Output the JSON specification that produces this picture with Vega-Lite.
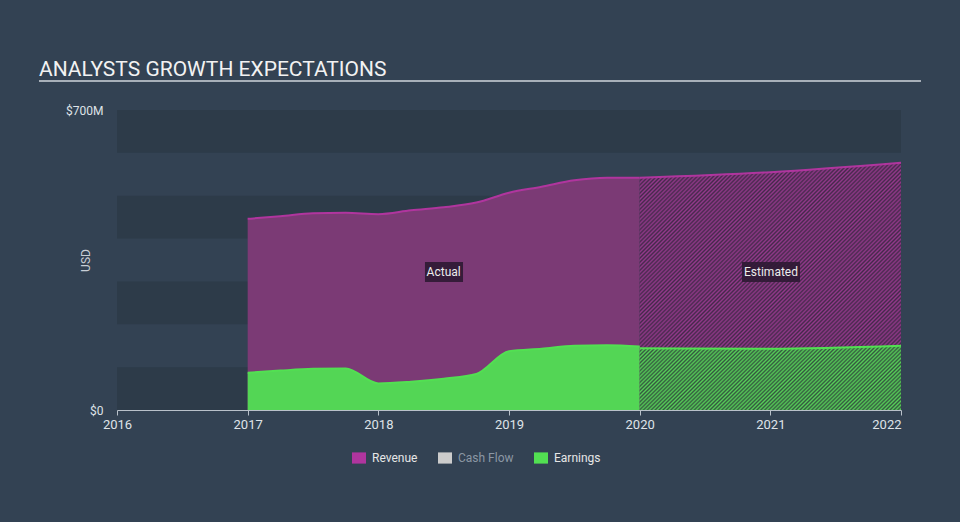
{
"$schema": "https://vega.github.io/schema/vega-lite/v6.json",
"width": 784, "height": 300,
"autosize": {"type": "none"},
"padding": {"left": 117, "top": 110, "right": 59, "bottom": 112},
"background": "#334253",
"config": {
 "view": {"stroke": null},
 "font": "Roboto",
 "axisX": {"domainColor": "#b9c1ca", "tickColor": "#b9c1ca", "tickSize": 5, "labelColor": "#dfe3e8", "labelFontSize": 13, "labelPadding": 3, "grid": false, "labelFont": "Roboto"},
 "axisY": {"domain": false, "ticks": false, "grid": false, "labelColor": "#dfe3e8", "labelFontSize": 12, "labelPadding": 14, "labelFont": "Roboto", "titleColor": "#c8ced6", "titleFont": "Roboto", "titleFontSize": 12, "titleFontWeight": "normal"}
},
"title": {"text": "ANALYSTS GROWTH EXPECTATIONS", "anchor": "start", "frame": "group", "dx": -78, "dy": 45, "offset": 28, "font": "Roboto", "fontSize": 21, "fontWeight": "normal", "color": "#f2f2f2", "baseline": "alphabetic"},
"datasets": {
 "fin": [
  {"year": 2017, "series": "Revenue", "phase": "Actual", "value": 446},
  {"year": 2017.25, "series": "Revenue", "phase": "Actual", "value": 452},
  {"year": 2017.5, "series": "Revenue", "phase": "Actual", "value": 459},
  {"year": 2017.75, "series": "Revenue", "phase": "Actual", "value": 460},
  {"year": 2018, "series": "Revenue", "phase": "Actual", "value": 457},
  {"year": 2018.25, "series": "Revenue", "phase": "Actual", "value": 466},
  {"year": 2018.5, "series": "Revenue", "phase": "Actual", "value": 473},
  {"year": 2018.75, "series": "Revenue", "phase": "Actual", "value": 484},
  {"year": 2019, "series": "Revenue", "phase": "Actual", "value": 507},
  {"year": 2019.25, "series": "Revenue", "phase": "Actual", "value": 521},
  {"year": 2019.5, "series": "Revenue", "phase": "Actual", "value": 536},
  {"year": 2019.75, "series": "Revenue", "phase": "Actual", "value": 542},
  {"year": 2020, "series": "Revenue", "phase": "Actual", "value": 542},
  {"year": 2020, "series": "Revenue", "phase": "Estimated", "value": 542},
  {"year": 2021, "series": "Revenue", "phase": "Estimated", "value": 555},
  {"year": 2022, "series": "Revenue", "phase": "Estimated", "value": 577},
  {"year": 2017, "series": "Earnings", "phase": "Actual", "value": 87},
  {"year": 2017.25, "series": "Earnings", "phase": "Actual", "value": 92},
  {"year": 2017.5, "series": "Earnings", "phase": "Actual", "value": 96},
  {"year": 2017.75, "series": "Earnings", "phase": "Actual", "value": 97},
  {"year": 2018, "series": "Earnings", "phase": "Actual", "value": 62},
  {"year": 2018.25, "series": "Earnings", "phase": "Actual", "value": 66},
  {"year": 2018.5, "series": "Earnings", "phase": "Actual", "value": 73},
  {"year": 2018.75, "series": "Earnings", "phase": "Actual", "value": 84},
  {"year": 2019, "series": "Earnings", "phase": "Actual", "value": 137},
  {"year": 2019.25, "series": "Earnings", "phase": "Actual", "value": 143},
  {"year": 2019.5, "series": "Earnings", "phase": "Actual", "value": 150},
  {"year": 2019.75, "series": "Earnings", "phase": "Actual", "value": 151},
  {"year": 2020, "series": "Earnings", "phase": "Actual", "value": 148},
  {"year": 2020, "series": "Earnings", "phase": "Estimated", "value": 144},
  {"year": 2021, "series": "Earnings", "phase": "Estimated", "value": 143},
  {"year": 2022, "series": "Earnings", "phase": "Estimated", "value": 150}
 ],
 "bands": [{"lo": 0, "hi": 100}, {"lo": 200, "hi": 300}, {"lo": 400, "hi": 500}, {"lo": 600, "hi": 700}]
},
"data": {"name": "fin"},
"layer": [
 {
  "data": {"name": "bands"},
  "mark": {"type": "rect", "fill": "#2d3b49"},
  "encoding": {
   "x": {"datum": 2016, "type": "quantitative", "scale": {"domain": [2016, 2022], "nice": false, "zero": false}},
   "x2": {"datum": 2022},
   "y": {"field": "lo", "type": "quantitative", "scale": {"domain": [0, 700], "nice": false}},
   "y2": {"field": "hi"}
  }
 },
 {
  "transform": [{"filter": "datum.series === 'Revenue' && datum.phase === 'Actual'"}],
  "mark": {"type": "area", "interpolate": "monotone", "fill": "#7b3a75", "opacity": 1},
  "encoding": {
   "x": {"field": "year", "type": "quantitative", "scale": {"domain": [2016, 2022], "nice": false, "zero": false},
    "axis": {"values": [2016, 2017, 2018, 2019, 2020, 2021, 2022], "format": "d", "title": null,
     "labelAlign": {"condition": {"test": "datum.value === 2022", "value": "right"}, "value": "center"}}},
   "y": {"field": "value", "type": "quantitative", "scale": {"domain": [0, 700], "nice": false},
    "axis": {"values": [0, 700], "labelExpr": "datum.value === 0 ? '$0' : '$' + datum.value + 'M'", "title": "USD", "labelFlush": false,
     "titleX": -32, "titleY": 150, "titleAngle": 270, "titleAlign": "center", "titleBaseline": "middle"}}
  }
 },
 {
  "transform": [{"filter": "datum.series === 'Revenue' && datum.phase === 'Estimated'"}],
  "mark": {"type": "area", "interpolate": "monotone", "opacity": 1,
   "fill": {"gradient": "linear", "x1": 0, "y1": 0, "x2": 1.0268, "y2": 0.9717, "stops": [
{"offset":0,"color":"#93398b"},{"offset":0.004,"color":"#45294b"},{"offset":0.008,"color":"#93398b"},{"offset":0.012,"color":"#45294b"},{"offset":0.016,"color":"#93398b"},{"offset":0.02,"color":"#45294b"},{"offset":0.024,"color":"#93398b"},{"offset":0.028,"color":"#45294b"},{"offset":0.032,"color":"#93398b"},{"offset":0.036,"color":"#45294b"},
{"offset":0.04,"color":"#93398b"},{"offset":0.044,"color":"#45294b"},{"offset":0.048,"color":"#93398b"},{"offset":0.052,"color":"#45294b"},{"offset":0.056,"color":"#93398b"},{"offset":0.06,"color":"#45294b"},{"offset":0.064,"color":"#93398b"},{"offset":0.068,"color":"#45294b"},{"offset":0.072,"color":"#93398b"},{"offset":0.076,"color":"#45294b"},
{"offset":0.08,"color":"#93398b"},{"offset":0.084,"color":"#45294b"},{"offset":0.088,"color":"#93398b"},{"offset":0.092,"color":"#45294b"},{"offset":0.096,"color":"#93398b"},{"offset":0.1,"color":"#45294b"},{"offset":0.104,"color":"#93398b"},{"offset":0.108,"color":"#45294b"},{"offset":0.112,"color":"#93398b"},{"offset":0.116,"color":"#45294b"},
{"offset":0.12,"color":"#93398b"},{"offset":0.124,"color":"#45294b"},{"offset":0.128,"color":"#93398b"},{"offset":0.132,"color":"#45294b"},{"offset":0.136,"color":"#93398b"},{"offset":0.14,"color":"#45294b"},{"offset":0.144,"color":"#93398b"},{"offset":0.148,"color":"#45294b"},{"offset":0.152,"color":"#93398b"},{"offset":0.156,"color":"#45294b"},
{"offset":0.16,"color":"#93398b"},{"offset":0.164,"color":"#45294b"},{"offset":0.168,"color":"#93398b"},{"offset":0.172,"color":"#45294b"},{"offset":0.176,"color":"#93398b"},{"offset":0.18,"color":"#45294b"},{"offset":0.184,"color":"#93398b"},{"offset":0.188,"color":"#45294b"},{"offset":0.192,"color":"#93398b"},{"offset":0.196,"color":"#45294b"},
{"offset":0.2,"color":"#93398b"},{"offset":0.204,"color":"#45294b"},{"offset":0.208,"color":"#93398b"},{"offset":0.212,"color":"#45294b"},{"offset":0.216,"color":"#93398b"},{"offset":0.22,"color":"#45294b"},{"offset":0.224,"color":"#93398b"},{"offset":0.228,"color":"#45294b"},{"offset":0.232,"color":"#93398b"},{"offset":0.236,"color":"#45294b"},
{"offset":0.24,"color":"#93398b"},{"offset":0.244,"color":"#45294b"},{"offset":0.248,"color":"#93398b"},{"offset":0.252,"color":"#45294b"},{"offset":0.256,"color":"#93398b"},{"offset":0.26,"color":"#45294b"},{"offset":0.264,"color":"#93398b"},{"offset":0.268,"color":"#45294b"},{"offset":0.272,"color":"#93398b"},{"offset":0.276,"color":"#45294b"},
{"offset":0.28,"color":"#93398b"},{"offset":0.284,"color":"#45294b"},{"offset":0.288,"color":"#93398b"},{"offset":0.292,"color":"#45294b"},{"offset":0.296,"color":"#93398b"},{"offset":0.3,"color":"#45294b"},{"offset":0.304,"color":"#93398b"},{"offset":0.308,"color":"#45294b"},{"offset":0.312,"color":"#93398b"},{"offset":0.316,"color":"#45294b"},
{"offset":0.32,"color":"#93398b"},{"offset":0.324,"color":"#45294b"},{"offset":0.328,"color":"#93398b"},{"offset":0.332,"color":"#45294b"},{"offset":0.336,"color":"#93398b"},{"offset":0.34,"color":"#45294b"},{"offset":0.344,"color":"#93398b"},{"offset":0.348,"color":"#45294b"},{"offset":0.352,"color":"#93398b"},{"offset":0.356,"color":"#45294b"},
{"offset":0.36,"color":"#93398b"},{"offset":0.364,"color":"#45294b"},{"offset":0.368,"color":"#93398b"},{"offset":0.372,"color":"#45294b"},{"offset":0.376,"color":"#93398b"},{"offset":0.38,"color":"#45294b"},{"offset":0.384,"color":"#93398b"},{"offset":0.388,"color":"#45294b"},{"offset":0.392,"color":"#93398b"},{"offset":0.396,"color":"#45294b"},
{"offset":0.4,"color":"#93398b"},{"offset":0.404,"color":"#45294b"},{"offset":0.408,"color":"#93398b"},{"offset":0.412,"color":"#45294b"},{"offset":0.416,"color":"#93398b"},{"offset":0.42,"color":"#45294b"},{"offset":0.424,"color":"#93398b"},{"offset":0.428,"color":"#45294b"},{"offset":0.432,"color":"#93398b"},{"offset":0.436,"color":"#45294b"},
{"offset":0.44,"color":"#93398b"},{"offset":0.444,"color":"#45294b"},{"offset":0.448,"color":"#93398b"},{"offset":0.452,"color":"#45294b"},{"offset":0.456,"color":"#93398b"},{"offset":0.46,"color":"#45294b"},{"offset":0.464,"color":"#93398b"},{"offset":0.468,"color":"#45294b"},{"offset":0.472,"color":"#93398b"},{"offset":0.476,"color":"#45294b"},
{"offset":0.48,"color":"#93398b"},{"offset":0.484,"color":"#45294b"},{"offset":0.488,"color":"#93398b"},{"offset":0.492,"color":"#45294b"},{"offset":0.496,"color":"#93398b"},{"offset":0.5,"color":"#45294b"},{"offset":0.504,"color":"#93398b"},{"offset":0.508,"color":"#45294b"},{"offset":0.512,"color":"#93398b"},{"offset":0.516,"color":"#45294b"},
{"offset":0.52,"color":"#93398b"},{"offset":0.524,"color":"#45294b"},{"offset":0.528,"color":"#93398b"},{"offset":0.532,"color":"#45294b"},{"offset":0.536,"color":"#93398b"},{"offset":0.54,"color":"#45294b"},{"offset":0.544,"color":"#93398b"},{"offset":0.548,"color":"#45294b"},{"offset":0.552,"color":"#93398b"},{"offset":0.556,"color":"#45294b"},
{"offset":0.56,"color":"#93398b"},{"offset":0.564,"color":"#45294b"},{"offset":0.568,"color":"#93398b"},{"offset":0.572,"color":"#45294b"},{"offset":0.576,"color":"#93398b"},{"offset":0.58,"color":"#45294b"},{"offset":0.584,"color":"#93398b"},{"offset":0.588,"color":"#45294b"},{"offset":0.592,"color":"#93398b"},{"offset":0.596,"color":"#45294b"},
{"offset":0.6,"color":"#93398b"},{"offset":0.604,"color":"#45294b"},{"offset":0.608,"color":"#93398b"},{"offset":0.612,"color":"#45294b"},{"offset":0.616,"color":"#93398b"},{"offset":0.62,"color":"#45294b"},{"offset":0.624,"color":"#93398b"},{"offset":0.628,"color":"#45294b"},{"offset":0.632,"color":"#93398b"},{"offset":0.636,"color":"#45294b"},
{"offset":0.64,"color":"#93398b"},{"offset":0.644,"color":"#45294b"},{"offset":0.648,"color":"#93398b"},{"offset":0.652,"color":"#45294b"},{"offset":0.656,"color":"#93398b"},{"offset":0.66,"color":"#45294b"},{"offset":0.664,"color":"#93398b"},{"offset":0.668,"color":"#45294b"},{"offset":0.672,"color":"#93398b"},{"offset":0.676,"color":"#45294b"},
{"offset":0.68,"color":"#93398b"},{"offset":0.684,"color":"#45294b"},{"offset":0.688,"color":"#93398b"},{"offset":0.692,"color":"#45294b"},{"offset":0.696,"color":"#93398b"},{"offset":0.7,"color":"#45294b"},{"offset":0.704,"color":"#93398b"},{"offset":0.708,"color":"#45294b"},{"offset":0.712,"color":"#93398b"},{"offset":0.716,"color":"#45294b"},
{"offset":0.72,"color":"#93398b"},{"offset":0.724,"color":"#45294b"},{"offset":0.728,"color":"#93398b"},{"offset":0.732,"color":"#45294b"},{"offset":0.736,"color":"#93398b"},{"offset":0.74,"color":"#45294b"},{"offset":0.744,"color":"#93398b"},{"offset":0.748,"color":"#45294b"},{"offset":0.752,"color":"#93398b"},{"offset":0.756,"color":"#45294b"},
{"offset":0.76,"color":"#93398b"},{"offset":0.764,"color":"#45294b"},{"offset":0.768,"color":"#93398b"},{"offset":0.772,"color":"#45294b"},{"offset":0.776,"color":"#93398b"},{"offset":0.78,"color":"#45294b"},{"offset":0.784,"color":"#93398b"},{"offset":0.788,"color":"#45294b"},{"offset":0.792,"color":"#93398b"},{"offset":0.796,"color":"#45294b"},
{"offset":0.8,"color":"#93398b"},{"offset":0.804,"color":"#45294b"},{"offset":0.808,"color":"#93398b"},{"offset":0.812,"color":"#45294b"},{"offset":0.816,"color":"#93398b"},{"offset":0.82,"color":"#45294b"},{"offset":0.824,"color":"#93398b"},{"offset":0.828,"color":"#45294b"},{"offset":0.832,"color":"#93398b"},{"offset":0.836,"color":"#45294b"},
{"offset":0.84,"color":"#93398b"},{"offset":0.844,"color":"#45294b"},{"offset":0.848,"color":"#93398b"},{"offset":0.852,"color":"#45294b"},{"offset":0.856,"color":"#93398b"},{"offset":0.86,"color":"#45294b"},{"offset":0.864,"color":"#93398b"},{"offset":0.868,"color":"#45294b"},{"offset":0.872,"color":"#93398b"},{"offset":0.876,"color":"#45294b"},
{"offset":0.88,"color":"#93398b"},{"offset":0.884,"color":"#45294b"},{"offset":0.888,"color":"#93398b"},{"offset":0.892,"color":"#45294b"},{"offset":0.896,"color":"#93398b"},{"offset":0.9,"color":"#45294b"},{"offset":0.904,"color":"#93398b"},{"offset":0.908,"color":"#45294b"},{"offset":0.912,"color":"#93398b"},{"offset":0.916,"color":"#45294b"},
{"offset":0.92,"color":"#93398b"},{"offset":0.924,"color":"#45294b"},{"offset":0.928,"color":"#93398b"},{"offset":0.932,"color":"#45294b"},{"offset":0.936,"color":"#93398b"},{"offset":0.94,"color":"#45294b"},{"offset":0.944,"color":"#93398b"},{"offset":0.948,"color":"#45294b"},{"offset":0.952,"color":"#93398b"},{"offset":0.956,"color":"#45294b"},
{"offset":0.96,"color":"#93398b"},{"offset":0.964,"color":"#45294b"},{"offset":0.968,"color":"#93398b"},{"offset":0.972,"color":"#45294b"},{"offset":0.976,"color":"#93398b"},{"offset":0.98,"color":"#45294b"},{"offset":0.984,"color":"#93398b"},{"offset":0.988,"color":"#45294b"},{"offset":0.992,"color":"#93398b"},{"offset":0.996,"color":"#45294b"},
{"offset":1,"color":"#93398b"}
   ]}},
  "encoding": {
   "x": {"field": "year", "type": "quantitative", "scale": {"domain": [2016, 2022], "nice": false, "zero": false}},
   "y": {"field": "value", "type": "quantitative", "scale": {"domain": [0, 700], "nice": false}}
  }
 },
 {
  "transform": [{"filter": "datum.series === 'Earnings' && datum.phase === 'Actual'"}],
  "mark": {"type": "area", "interpolate": "monotone", "fill": "#53d655", "opacity": 1},
  "encoding": {
   "x": {"field": "year", "type": "quantitative", "scale": {"domain": [2016, 2022], "nice": false, "zero": false}},
   "y": {"field": "value", "type": "quantitative", "scale": {"domain": [0, 700], "nice": false}}
  }
 },
 {
  "transform": [{"filter": "datum.series === 'Earnings' && datum.phase === 'Estimated'"}],
  "mark": {"type": "area", "interpolate": "monotone", "opacity": 1,
   "fill": {"gradient": "linear", "x1": 0, "y1": 0, "x2": 1.1755, "y2": 0.291, "stops": [
{"offset":0,"color":"#57cf59"},{"offset":0.006,"color":"#34583f"},{"offset":0.012,"color":"#57cf59"},{"offset":0.018,"color":"#34583f"},{"offset":0.024,"color":"#57cf59"},{"offset":0.03,"color":"#34583f"},{"offset":0.036,"color":"#57cf59"},{"offset":0.042,"color":"#34583f"},{"offset":0.048,"color":"#57cf59"},{"offset":0.054,"color":"#34583f"},
{"offset":0.06,"color":"#57cf59"},{"offset":0.066,"color":"#34583f"},{"offset":0.072,"color":"#57cf59"},{"offset":0.078,"color":"#34583f"},{"offset":0.084,"color":"#57cf59"},{"offset":0.09,"color":"#34583f"},{"offset":0.096,"color":"#57cf59"},{"offset":0.102,"color":"#34583f"},{"offset":0.108,"color":"#57cf59"},{"offset":0.114,"color":"#34583f"},
{"offset":0.12,"color":"#57cf59"},{"offset":0.126,"color":"#34583f"},{"offset":0.132,"color":"#57cf59"},{"offset":0.138,"color":"#34583f"},{"offset":0.144,"color":"#57cf59"},{"offset":0.15,"color":"#34583f"},{"offset":0.156,"color":"#57cf59"},{"offset":0.162,"color":"#34583f"},{"offset":0.168,"color":"#57cf59"},{"offset":0.174,"color":"#34583f"},
{"offset":0.18,"color":"#57cf59"},{"offset":0.186,"color":"#34583f"},{"offset":0.192,"color":"#57cf59"},{"offset":0.198,"color":"#34583f"},{"offset":0.204,"color":"#57cf59"},{"offset":0.21,"color":"#34583f"},{"offset":0.216,"color":"#57cf59"},{"offset":0.222,"color":"#34583f"},{"offset":0.228,"color":"#57cf59"},{"offset":0.234,"color":"#34583f"},
{"offset":0.24,"color":"#57cf59"},{"offset":0.246,"color":"#34583f"},{"offset":0.252,"color":"#57cf59"},{"offset":0.258,"color":"#34583f"},{"offset":0.264,"color":"#57cf59"},{"offset":0.27,"color":"#34583f"},{"offset":0.276,"color":"#57cf59"},{"offset":0.282,"color":"#34583f"},{"offset":0.288,"color":"#57cf59"},{"offset":0.294,"color":"#34583f"},
{"offset":0.3,"color":"#57cf59"},{"offset":0.306,"color":"#34583f"},{"offset":0.312,"color":"#57cf59"},{"offset":0.318,"color":"#34583f"},{"offset":0.324,"color":"#57cf59"},{"offset":0.33,"color":"#34583f"},{"offset":0.336,"color":"#57cf59"},{"offset":0.342,"color":"#34583f"},{"offset":0.348,"color":"#57cf59"},{"offset":0.354,"color":"#34583f"},
{"offset":0.36,"color":"#57cf59"},{"offset":0.366,"color":"#34583f"},{"offset":0.372,"color":"#57cf59"},{"offset":0.378,"color":"#34583f"},{"offset":0.384,"color":"#57cf59"},{"offset":0.39,"color":"#34583f"},{"offset":0.396,"color":"#57cf59"},{"offset":0.402,"color":"#34583f"},{"offset":0.408,"color":"#57cf59"},{"offset":0.414,"color":"#34583f"},
{"offset":0.42,"color":"#57cf59"},{"offset":0.426,"color":"#34583f"},{"offset":0.432,"color":"#57cf59"},{"offset":0.438,"color":"#34583f"},{"offset":0.444,"color":"#57cf59"},{"offset":0.45,"color":"#34583f"},{"offset":0.456,"color":"#57cf59"},{"offset":0.462,"color":"#34583f"},{"offset":0.468,"color":"#57cf59"},{"offset":0.474,"color":"#34583f"},
{"offset":0.48,"color":"#57cf59"},{"offset":0.486,"color":"#34583f"},{"offset":0.492,"color":"#57cf59"},{"offset":0.498,"color":"#34583f"},{"offset":0.504,"color":"#57cf59"},{"offset":0.51,"color":"#34583f"},{"offset":0.516,"color":"#57cf59"},{"offset":0.522,"color":"#34583f"},{"offset":0.528,"color":"#57cf59"},{"offset":0.534,"color":"#34583f"},
{"offset":0.54,"color":"#57cf59"},{"offset":0.546,"color":"#34583f"},{"offset":0.552,"color":"#57cf59"},{"offset":0.558,"color":"#34583f"},{"offset":0.564,"color":"#57cf59"},{"offset":0.57,"color":"#34583f"},{"offset":0.576,"color":"#57cf59"},{"offset":0.582,"color":"#34583f"},{"offset":0.588,"color":"#57cf59"},{"offset":0.594,"color":"#34583f"},
{"offset":0.6,"color":"#57cf59"},{"offset":0.606,"color":"#34583f"},{"offset":0.612,"color":"#57cf59"},{"offset":0.618,"color":"#34583f"},{"offset":0.624,"color":"#57cf59"},{"offset":0.63,"color":"#34583f"},{"offset":0.636,"color":"#57cf59"},{"offset":0.642,"color":"#34583f"},{"offset":0.648,"color":"#57cf59"},{"offset":0.654,"color":"#34583f"},
{"offset":0.66,"color":"#57cf59"},{"offset":0.666,"color":"#34583f"},{"offset":0.672,"color":"#57cf59"},{"offset":0.678,"color":"#34583f"},{"offset":0.684,"color":"#57cf59"},{"offset":0.69,"color":"#34583f"},{"offset":0.696,"color":"#57cf59"},{"offset":0.702,"color":"#34583f"},{"offset":0.708,"color":"#57cf59"},{"offset":0.714,"color":"#34583f"},
{"offset":0.72,"color":"#57cf59"},{"offset":0.726,"color":"#34583f"},{"offset":0.732,"color":"#57cf59"},{"offset":0.738,"color":"#34583f"},{"offset":0.744,"color":"#57cf59"},{"offset":0.75,"color":"#34583f"},{"offset":0.756,"color":"#57cf59"},{"offset":0.762,"color":"#34583f"},{"offset":0.768,"color":"#57cf59"},{"offset":0.774,"color":"#34583f"},
{"offset":0.78,"color":"#57cf59"},{"offset":0.786,"color":"#34583f"},{"offset":0.792,"color":"#57cf59"},{"offset":0.798,"color":"#34583f"},{"offset":0.804,"color":"#57cf59"},{"offset":0.81,"color":"#34583f"},{"offset":0.816,"color":"#57cf59"},{"offset":0.822,"color":"#34583f"},{"offset":0.828,"color":"#57cf59"},{"offset":0.834,"color":"#34583f"},
{"offset":0.84,"color":"#57cf59"},{"offset":0.846,"color":"#34583f"},{"offset":0.852,"color":"#57cf59"},{"offset":0.858,"color":"#34583f"},{"offset":0.864,"color":"#57cf59"},{"offset":0.87,"color":"#34583f"},{"offset":0.876,"color":"#57cf59"},{"offset":0.882,"color":"#34583f"},{"offset":0.888,"color":"#57cf59"},{"offset":0.894,"color":"#34583f"},
{"offset":0.9,"color":"#57cf59"},{"offset":0.906,"color":"#34583f"},{"offset":0.912,"color":"#57cf59"},{"offset":0.918,"color":"#34583f"},{"offset":0.924,"color":"#57cf59"},{"offset":0.93,"color":"#34583f"},{"offset":0.936,"color":"#57cf59"},{"offset":0.942,"color":"#34583f"},{"offset":0.948,"color":"#57cf59"},{"offset":0.954,"color":"#34583f"},
{"offset":0.96,"color":"#57cf59"},{"offset":0.966,"color":"#34583f"},{"offset":0.972,"color":"#57cf59"},{"offset":0.978,"color":"#34583f"},{"offset":0.984,"color":"#57cf59"},{"offset":0.99,"color":"#34583f"},{"offset":0.996,"color":"#57cf59"}
   ]}},
  "encoding": {
   "x": {"field": "year", "type": "quantitative", "scale": {"domain": [2016, 2022], "nice": false, "zero": false}},
   "y": {"field": "value", "type": "quantitative", "scale": {"domain": [0, 700], "nice": false}}
  }
 },
 {
  "mark": {"type": "line", "interpolate": "monotone", "strokeWidth": 2},
  "encoding": {
   "x": {"field": "year", "type": "quantitative", "scale": {"domain": [2016, 2022], "nice": false, "zero": false}},
   "y": {"field": "value", "type": "quantitative", "scale": {"domain": [0, 700], "nice": false}},
   "detail": {"field": "phase"},
   "color": {"field": "series", "type": "nominal",
    "scale": {"domain": ["Revenue", "Cash Flow", "Earnings"], "range": ["#b0359e", "#cccccc", "#52e052"]},
    "legend": {"orient": "none", "legendX": 235, "legendY": 341, "direction": "horizontal", "title": null,
     "symbolType": "M-1,-0.8H1V0.8H-1Z", "symbolSize": 196, "labelFont": "Roboto", "labelFontSize": 12, "labelFontWeight": "normal",
     "labelColor": "#e6e6e6", "columnPadding": 20, "labelOffset": 6,
     "encode": {
      "symbols": {"update": {"fill": {"scale": "color", "field": "value"}, "fillOpacity": {"value": 1}, "strokeWidth": {"value": 0}}},
      "labels": {"update": {"fill": {"signal": "datum.value === 'Cash Flow' ? '#8b97a4' : '#e6e6e6'"}}}
     }}}
  }
 },
 {
  "data": {"values": [{}]},
  "mark": {"type": "rect", "fill": "#2d1a33", "opacity": 0.9},
  "encoding": {
   "x": {"datum": 2018.357, "type": "quantitative"}, "x2": {"datum": 2018.648},
   "y": {"datum": 345.3, "type": "quantitative"}, "y2": {"datum": 298.7}
  }
 },
 {
  "data": {"values": [{}]},
  "mark": {"type": "rect", "fill": "#2d1a33", "opacity": 0.9},
  "encoding": {
   "x": {"datum": 2020.783, "type": "quantitative"}, "x2": {"datum": 2021.227},
   "y": {"datum": 345.3, "type": "quantitative"}, "y2": {"datum": 298.7}
  }
 },
 {
  "data": {"values": [{}]},
  "mark": {"type": "text", "text": "Actual", "font": "Roboto", "fontSize": 12, "color": "#ececec", "baseline": "middle", "align": "center"},
  "encoding": {"x": {"datum": 2018.5, "type": "quantitative"}, "y": {"datum": 322, "type": "quantitative"}}
 },
 {
  "data": {"values": [{}]},
  "mark": {"type": "text", "text": "Estimated", "font": "Roboto", "fontSize": 12, "color": "#ececec", "baseline": "middle", "align": "center"},
  "encoding": {"x": {"datum": 2021.005, "type": "quantitative"}, "y": {"datum": 322, "type": "quantitative"}}
 },
 {
  "data": {"values": [{}]},
  "mark": {"type": "rule", "color": "#a8b0b9", "strokeWidth": 2},
  "encoding": {"x": {"datum": 2015.403, "type": "quantitative"}, "x2": {"datum": 2022.153}, "y": {"datum": 767.7, "type": "quantitative"}}
 }
]
}
